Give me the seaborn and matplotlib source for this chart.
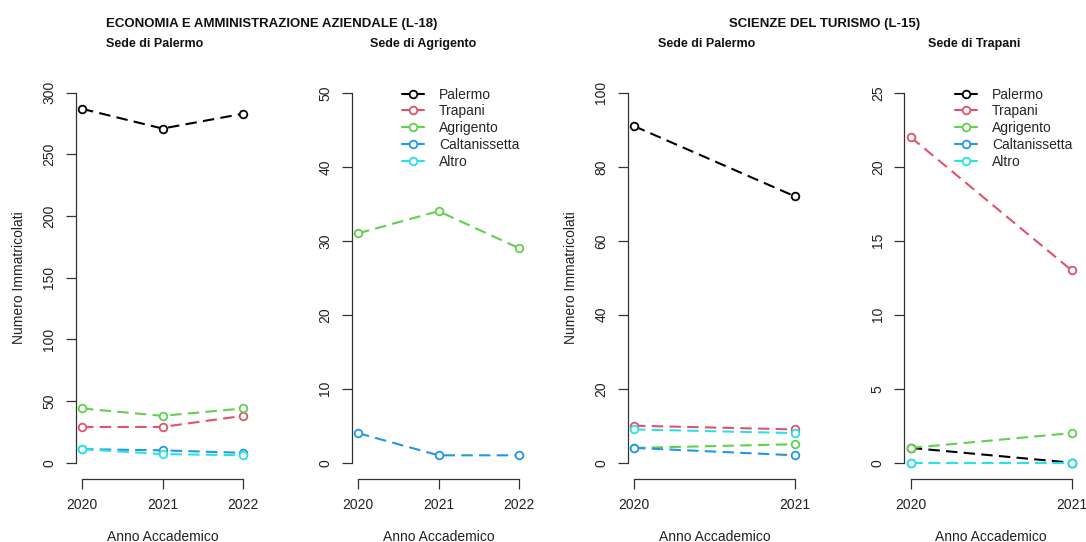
import numpy as np
import pandas as pd
import matplotlib
matplotlib.use("Agg")
import matplotlib.pyplot as plt
from matplotlib.lines import Line2D
import seaborn as sns

sedi = ["Palermo", "Trapani", "Agrigento", "Caltanissetta", "Altro"]
colori = ["black", "#DF536B", "#61D04F", "#2297E6", "#28E2E5"]

anni_l18 = [2020, 2021, 2022]
anni_l15 = [2020, 2021]

# L-18 sede di Palermo (provenienza degli immatricolati)
eco_palermo = {
    "Palermo": [287, 271, 283],
    "Trapani": [29, 29, 38],
    "Agrigento": [44, 38, 44],
    "Caltanissetta": [11, 10, 8],
    "Altro": [11, 7, 6],
}
# L-18 sede di Agrigento
eco_agrigento = {
    "Palermo": [None, None, None],
    "Trapani": [None, None, None],
    "Agrigento": [31, 34, 29],
    "Caltanissetta": [4, 1, 1],
    "Altro": [None, None, None],
}
# L-15 sede di Palermo
tur_palermo = {
    "Palermo": [91, 72],
    "Trapani": [10, 9],
    "Agrigento": [4, 5],
    "Caltanissetta": [4, 2],
    "Altro": [9, 8],
}
# L-15 sede di Trapani
tur_trapani = {
    "Palermo": [1, 0],
    "Trapani": [22, 13],
    "Agrigento": [1, 2],
    "Caltanissetta": [0, 0],
    "Altro": [0, 0],
}

sns.set_style("ticks")
plt.rcParams["font.family"] = ["Liberation Sans", "DejaVu Sans"]

W, H = 1086, 542
fig = plt.figure(figsize=(W / 100, H / 100), dpi=100)

tratteggio = (0, (5.5, 3))


def disegna(ax, anni, dati, ymax, passo, ylabel=False, legenda=False):
    for sede, col in zip(sedi, colori):
        valori = [np.nan if v is None else v for v in dati[sede]]
        if np.all(np.isnan(valori)):
            continue
        df = pd.DataFrame({"anno": anni, "n": valori})
        sns.lineplot(data=df, x="anno", y="n", ax=ax, color=col,
                     marker="o", markersize=5.5, markerfacecolor="white",
                     markeredgecolor=col, markeredgewidth=1.3,
                     linewidth=1.5, linestyle=tratteggio)

    span = anni[-1] - anni[0]
    ax.set_xlim(anni[0] - 0.04 * span, anni[-1] + 0.04 * span)
    ax.set_ylim(-0.04 * ymax, 1.04 * ymax)
    ax.set_xticks(anni)
    ax.set_xticklabels([str(a) for a in anni])
    ax.set_yticks(np.arange(0, ymax + 1, passo))
    for lab in ax.get_yticklabels():
        lab.set_rotation(90)
        lab.set_va("center")

    for s in ["top", "right"]:
        ax.spines[s].set_visible(False)
    ax.spines["left"].set_bounds(0, ymax)
    ax.spines["bottom"].set_bounds(anni[0], anni[-1])
    ax.spines["bottom"].set_position(("outward", 1))
    for s in ["left", "bottom"]:
        ax.spines[s].set_color("#333333")
        ax.spines[s].set_linewidth(0.9)
    ax.tick_params(axis="both", length=7, width=0.9, color="#333333",
                   labelsize=10, labelcolor="#222222", direction="out")
    ax.tick_params(axis="x", pad=7)
    ax.tick_params(axis="y", pad=7)

    ax.set_xlabel("Anno Accademico", fontsize=10, color="#222222")
    ax.xaxis.set_label_coords(0.5, -0.149)
    ax.xaxis.label.set_va("center")
    if ylabel:
        ax.set_ylabel("Numero Immatricolati", fontsize=10, color="#222222")
        ax.yaxis.set_label_coords(-0.285, 0.5)
    else:
        ax.set_ylabel("")

    if legenda:
        maniglie = [Line2D([0], [0], color=c, lw=1.5, marker="o", markersize=5.5,
                           markerfacecolor="white", markeredgecolor=c,
                           markeredgewidth=1.3) for c in colori]
        ax.legend(maniglie, sedi, frameon=False, fontsize=10,
                  loc="upper left", bbox_to_anchor=(0.26, 0.99),
                  handlelength=1.55, handletextpad=1.1, labelspacing=0.2,
                  borderaxespad=0)


sinistre = [75.6, 351.6, 627.6, 904.3]
larg = 173.8
alto, basso = 78, 477.5

pannelli = [
    (anni_l18, eco_palermo, 300, 50, True, False),
    (anni_l18, eco_agrigento, 50, 10, False, True),
    (anni_l15, tur_palermo, 100, 20, True, False),
    (anni_l15, tur_trapani, 25, 5, False, True),
]

for x0, (anni, dati, ymax, passo, yl, leg) in zip(sinistre, pannelli):
    ax = fig.add_axes([x0 / W, (H - basso) / H, larg / W, (basso - alto) / H])
    disegna(ax, anni, dati, ymax, passo, ylabel=yl, legenda=leg)

titoli_sede = [(155, "Sede di Palermo"), (423.5, "Sede di Agrigento"),
               (707, "Sede di Palermo"), (974, "Sede di Trapani")]
for x, t in titoli_sede:
    fig.text(x / W, 1 - 44 / H, t, ha="center", va="center",
             fontsize=9, fontweight="bold", color="#111111")

fig.text(272 / W, 1 - 24 / H, "ECONOMIA E AMMINISTRAZIONE AZIENDALE (L-18)",
         ha="center", va="center", fontsize=9.5, fontweight="bold", color="#111111")
fig.text(824.5 / W, 1 - 24 / H, "SCIENZE DEL TURISMO (L-15)",
         ha="center", va="center", fontsize=9.5, fontweight="bold", color="#111111")

fig.savefig("out.png", dpi=100)
